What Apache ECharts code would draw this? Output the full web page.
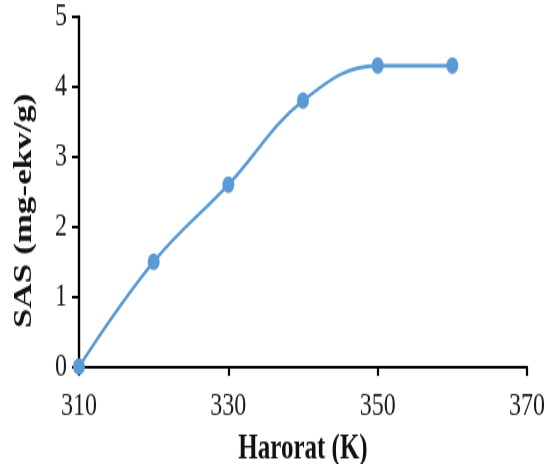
<!DOCTYPE html>
<html>
<head>
<meta charset="utf-8">
<script src="https://cdn.jsdelivr.net/npm/echarts@6/dist/echarts.min.js"></script>
<style>
html,body{margin:0;padding:0;overflow:hidden;background:#fff;}
#wrap{width:547px;height:464px;overflow:hidden;}
#chart{width:547px;height:331px;transform:scaleY(1.4018);transform-origin:0 0;}
</style>
</head>
<body>
<div id="wrap"><div id="chart"></div></div>
<script>
// Data
const xCategories = ['310','320','330','340','350','360','370'];
const sasValues = [0, 1.5, 2.6, 3.8, 4.3, 4.3];
const yTicks = [0, 1, 2, 3, 4, 5];
const xTitle = 'Harorat (K)';
const yTitle = 'SAS (mg-ekv/g)';

const chart = echarts.init(document.getElementById('chart'), null, {renderer:'canvas'});
const serif = '"Liberation Serif","Times New Roman",serif';
chart.setOption({
  animation:false,
  backgroundColor:'#fff',
  grid:{left:79,right:20,top:11.9,bottom:69.4,containLabel:false,outerBoundsMode:'none'},
  xAxis:{
    type:'category',
    data:xCategories,
    boundaryGap:false,
    name:xTitle,
    nameLocation:'middle',
    nameGap:46,
    nameTextStyle:{fontFamily:serif,fontWeight:'bold',fontSize:25,color:'#111'},
    axisLine:{lineStyle:{color:'#000',width:2.2}},
    axisTick:{show:true,interval:1,length:6.5,inside:false,lineStyle:{color:'#000',width:2.2}},
    axisLabel:{interval:1,margin:16,fontFamily:serif,fontSize:24,color:'#1a1a1a'},
    splitLine:{show:false}
  },
  yAxis:{
    type:'value',
    min:yTicks[0],
    max:yTicks[yTicks.length-1],
    interval:1,
    name:yTitle,
    nameLocation:'middle',
    nameGap:42,
    nameTextStyle:{fontFamily:serif,fontWeight:'bold',fontSize:25,color:'#111',padding:[0,27,0,0]},
    axisLine:{show:true,lineStyle:{color:'#000',width:2.4}},
    axisTick:{show:true,length:7,lineStyle:{color:'#000',width:2}},
    axisLabel:{margin:12,fontFamily:serif,fontSize:24,color:'#1a1a1a'},
    splitLine:{show:false}
  },
  series:[{
    type:'line',
    data:sasValues,
    smooth:0.4,
    symbol:'circle',
    symbolSize:12,
    lineStyle:{color:'#5B9BD5',width:2.6},
    itemStyle:{color:'#5B9BD5'}
  }]
});
</script>
</body>
</html>
